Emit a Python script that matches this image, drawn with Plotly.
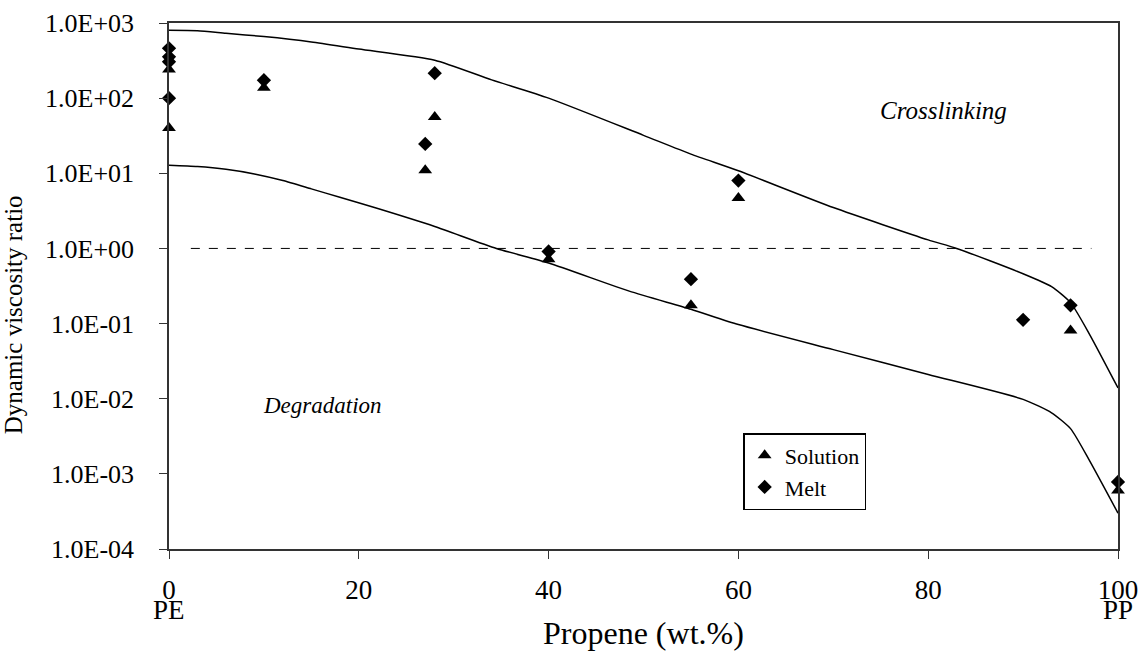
import plotly.graph_objects as go

# ---- data ----
solution_x = [0, 0, 10, 27, 28, 40, 55, 60, 95, 100]
solution_y = [240, 40, 138, 11, 56, 0.72, 0.175, 4.7, 0.081, 0.0006]

melt_x = [0, 0, 0, 0, 10, 27, 28, 40, 55, 60, 90, 95, 100]
melt_y = [460, 355, 305, 100, 173, 24.6, 215, 0.91, 0.39, 8.0, 0.112, 0.175, 0.00078]

upper_x = [0, 3, 6, 10, 15, 20, 28, 34, 40, 50, 55, 60, 70, 80, 83, 90, 93, 95, 97, 100]
upper_y = [800, 790, 730, 660, 560, 450, 320, 175, 100, 32, 18, 10.8, 3.5, 1.3, 1.0, 0.46, 0.31, 0.19, 0.072, 0.0139]

lower_x = [0, 3, 6, 9, 12, 15, 18, 22, 28, 34.5, 40, 48.5, 55, 60, 70, 80, 90, 93, 95, 97, 100]
lower_y = [12.8, 12.3, 11.3, 9.8, 8.0, 6.2, 4.8, 3.4, 1.96, 1.0, 0.64, 0.27, 0.155, 0.097, 0.045, 0.021, 0.0098, 0.0065, 0.004, 0.0015, 0.0003]

ref_x = [2.3, 97.2]
ref_y = [1, 1]

x_ticks = [0, 20, 40, 60, 80, 100]
x_ticktext = ["0", "20", "40", "60", "80", "100"]
end_labels = ["PE", "PP"]
end_label_x = [0, 100]
y_ticks = [1e-4, 1e-3, 1e-2, 1e-1, 1e0, 1e1, 1e2, 1e3]
y_ticktext = ["1.0E-04", "1.0E-03", "1.0E-02", "1.0E-01", "1.0E+00", "1.0E+01", "1.0E+02", "1.0E+03"]

FONT = "Liberation Serif"
W, H = 1141, 652
L, R, T, B = 169, 23, 23, 103

fig = go.Figure()
fig.add_trace(go.Scatter(x=upper_x, y=upper_y, mode="lines", line=dict(color="black", width=1.5, shape="spline", smoothing=0.6),
                         showlegend=False, hoverinfo="skip"))
fig.add_trace(go.Scatter(x=lower_x, y=lower_y, mode="lines", line=dict(color="black", width=1.5, shape="spline", smoothing=0.6),
                         showlegend=False, hoverinfo="skip"))
fig.add_trace(go.Scatter(x=ref_x, y=ref_y, mode="lines", line=dict(color="black", width=1, dash="dash"),
                         showlegend=False, hoverinfo="skip"))
fig.add_trace(go.Scatter(x=solution_x, y=solution_y, mode="markers", name="Solution",
                         marker=dict(symbol="triangle-up", size=12, color="black"), cliponaxis=False))
fig.add_trace(go.Scatter(x=melt_x, y=melt_y, mode="markers", name="Melt",
                         marker=dict(symbol="diamond", size=11, color="black"), cliponaxis=False))

fig.add_annotation(x=81.6, y=1.84, text="<i>Crosslinking</i>", showarrow=False,
                   font=dict(family=FONT, size=25, color="black"))
fig.add_annotation(x=16.2, y=-2.09, text="<i>Degradation</i>", showarrow=False,
                   font=dict(family=FONT, size=23, color="black"))

for lab, lx in zip(end_labels, end_label_x):
    fig.add_annotation(x=lx, xref="x", y=-0.116, yref="paper", text=lab, showarrow=False,
                       yanchor="middle", font=dict(family=FONT, size=27, color="black"))

fig.add_annotation(x=0.5, xref="paper", y=-0.16, yref="paper", text="Propene (wt.%)", showarrow=False,
                   yanchor="middle", font=dict(family=FONT, size=32, color="black"))
fig.add_annotation(x=-0.163, xref="paper", y=0.445, yref="paper", text="Dynamic viscosity ratio", showarrow=False,
                   textangle=-90, xanchor="center", yanchor="middle", font=dict(family=FONT, size=25, color="black"))

fig.update_layout(
    width=W, height=H,
    margin=dict(l=L, r=R, t=T, b=B),
    paper_bgcolor="white", plot_bgcolor="white",
    font=dict(family=FONT, size=27, color="black"),
    legend=dict(x=0.605, y=0.2205, xanchor="left", yanchor="top",
                bordercolor="black", borderwidth=1.5, bgcolor="white",
                font=dict(family=FONT, size=22), itemwidth=30, tracegroupgap=0),
)
fig.update_xaxes(range=[0, 100], tickvals=x_ticks, ticktext=x_ticktext, automargin=False,
                 showline=True, linecolor="#333", linewidth=1.5, mirror=True,
                 ticks="outside", ticklen=8, tickcolor="#333", showgrid=False, zeroline=False,
                 tickfont=dict(family=FONT, size=27), ticklabelstandoff=8, ticklabeloverflow="allow")
fig.update_yaxes(type="log", range=[-4, 3], tickvals=y_ticks, ticktext=y_ticktext, automargin=False,
                 showline=True, linecolor="#333", linewidth=1.5, mirror=True,
                 ticks="outside", ticklen=8, tickcolor="#333", showgrid=False, zeroline=False,
                 tickfont=dict(family=FONT, size=26), ticklabelstandoff=20, ticklabeloverflow="allow")

fig.write_html("out.html", config={"displayModeBar": False},
               post_script="document.documentElement.style.overflow='hidden';"
                           "document.body.style.margin='0';document.body.style.overflow='hidden';")
